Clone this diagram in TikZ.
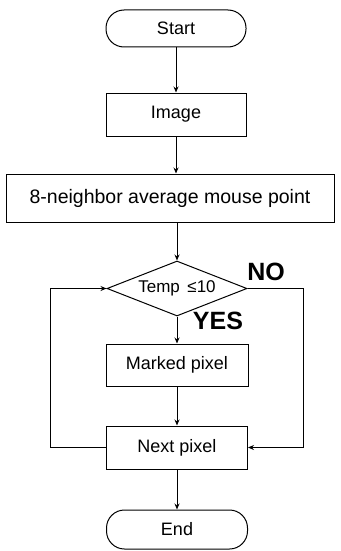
\documentclass[tikz,border=0pt]{standalone}
\usepackage{fontspec}
\setmainfont{Liberation Sans}
\usetikzlibrary{shapes.geometric,arrows.meta}
\tikzset{
  x=1pt, y=-1pt,
  box/.style={draw, line width=1pt, inner sep=0pt, font=\fontsize{18}{20}\selectfont},
  term/.style={box, rounded corners=18pt},
  dec/.style={draw, line width=1pt, diamond, shape aspect=2.6, inner sep=0pt, minimum width=140pt, minimum height=55pt, font=\fontsize{17}{20}\selectfont},
  lbl/.style={font=\bfseries\fontsize{25}{28}\selectfont, inner sep=0pt},
  flow/.style={line width=1pt, -{Stealth[length=6pt,width=5pt]}},
  line/.style={line width=1pt}
}
\begin{document}
\begin{tikzpicture}
\useasboundingbox (0,0) rectangle (340,551);
\node[term, minimum width=140pt, minimum height=37pt] (start) at (176,28.5) {Start};
\node[box, minimum width=140pt, minimum height=43pt] (image) at (176,114.5) {Image};
\node[box, minimum width=328pt, minimum height=48pt, font=\fontsize{19.5}{22}\selectfont] (avg) at (170,198) {8-neighbor average mouse point};
\node[dec] (temp) at (177,288.5) {Temp \,≤10};
\node[box, minimum width=142pt, minimum height=42pt] (mark) at (177,365) {Marked pixel};
\node[box, minimum width=141pt, minimum height=43pt] (next) at (177,447.5) {Next pixel};
\node[term, minimum width=141pt, minimum height=39pt] (end) at (177,529.5) {End};
\node[lbl] (no) at (266,272) {NO};
\node[lbl] (yes) at (218,321) {YES};
\coordinate (lx) at (50,0);
\coordinate (rx) at (303,0);
\draw[flow] (start) -- (image);
\draw[flow] (image) -- (image |- avg.north);
\draw[flow] (temp |- avg.south) -- (temp);
\draw[flow] (temp) -- (mark);
\draw[flow] (mark) -- (next);
\draw[flow] (next) -- (end);
\draw[flow] (next.west) -- (lx |- next.west) -- (lx |- temp.west) -- (temp.west);
\draw[flow] (temp.east) -- (rx |- temp.east) -- (rx |- next.east) -- (next.east);
\end{tikzpicture}
\end{document}
